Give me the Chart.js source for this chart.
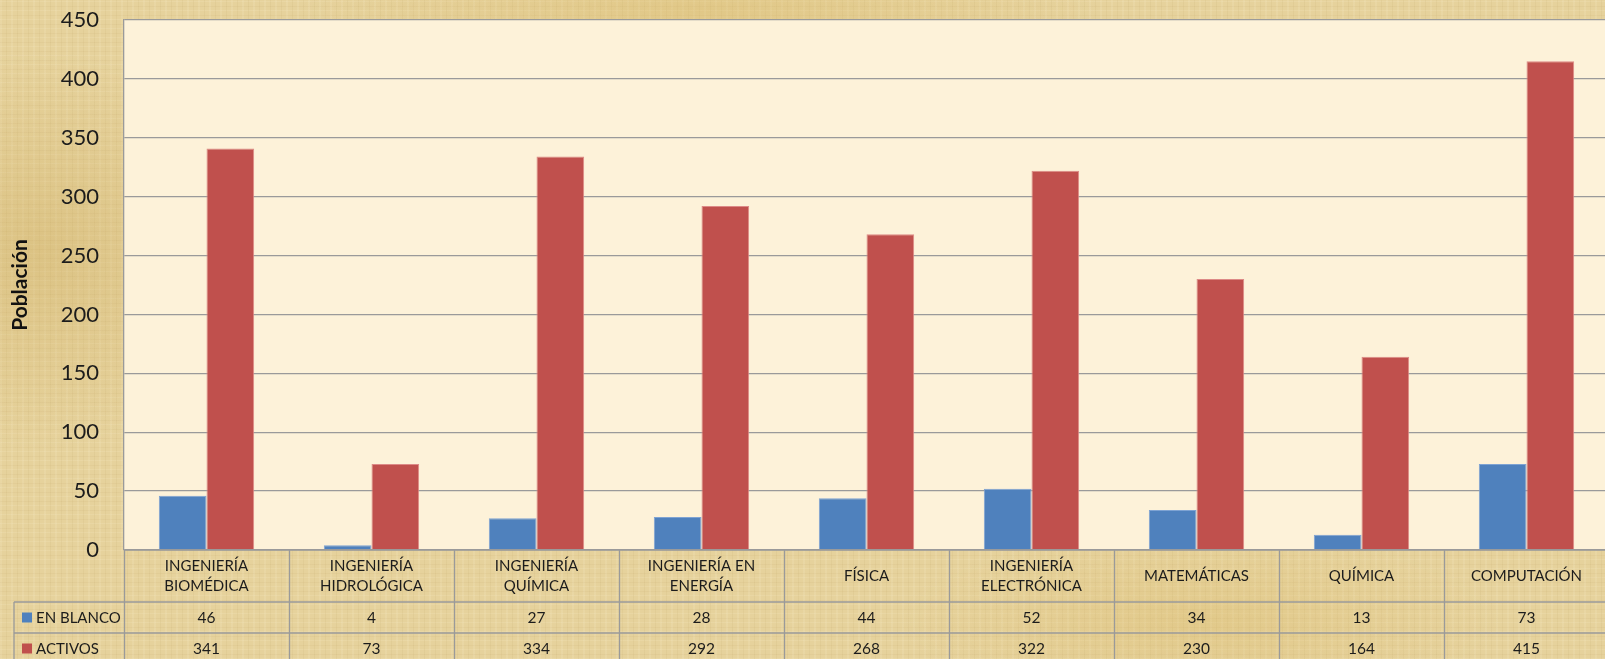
<!DOCTYPE html>
<html>
<head>
<meta charset="utf-8">
<script src="https://cdn.jsdelivr.net/npm/chart.js@4"></script>
<style>
  html, body { margin: 0; padding: 0; overflow: hidden; width: 1605px; height: 659px; }
  body {
    background-color: #e6d29c;
    background-image:
      radial-gradient(ellipse 220px 200px at 40px 250px, rgba(200,165,85,0.35), transparent),
      radial-gradient(ellipse 400px 60px at 700px 10px, rgba(215,180,95,0.35), transparent),
      radial-gradient(ellipse 300px 90px at 1200px 620px, rgba(215,180,95,0.3), transparent),
      repeating-linear-gradient(90deg, rgba(255,250,230,0.10) 0 2px, transparent 2px 6px, rgba(150,110,40,0.06) 6px 7px, transparent 7px 11px),
      repeating-linear-gradient(0deg, rgba(255,250,230,0.10) 0 1px, transparent 1px 4px, rgba(150,110,40,0.05) 4px 5px, transparent 5px 9px);
  }
  #wrap { position: absolute; left: 0; top: 0; width: 1612px; height: 659px; }
</style>
</head>
<body>
<div id="wrap"><canvas id="c" width="1612" height="659"></canvas></div>
<script>
const categories = [
  ["INGENIERÍA", "BIOMÉDICA"],
  ["INGENIERÍA", "HIDROLÓGICA"],
  ["INGENIERÍA", "QUÍMICA"],
  ["INGENIERÍA EN", "ENERGÍA"],
  ["FÍSICA"],
  ["INGENIERÍA", "ELECTRÓNICA"],
  ["MATEMÁTICAS"],
  ["QUÍMICA"],
  ["COMPUTACIÓN"]
];
const seriesNames = ["EN BLANCO", "ACTIVOS"];
const enBlanco = [46, 4, 27, 28, 44, 52, 34, 13, 73];
const activos = [341, 73, 334, 292, 268, 322, 230, 164, 415];
const yTicks = [0, 50, 100, 150, 200, 250, 300, 350, 400, 450];
const axisTitle = "Población";
const colors = ["#4f81bd", "#c0504d"];
const edgeColors = ["#7ea3d3", "#dd8a87"];

const FONT = "Lato, 'Open Sans', sans-serif";
const TEXT = "#1c1c1c";
const LINE = "#9a9a9a";

const plotBg = {
  id: 'plotBg',
  beforeDraw(chart) {
    const a = chart.chartArea, ctx = chart.ctx;
    ctx.save();
    ctx.fillStyle = "#fdf2d9";
    ctx.fillRect(a.left, a.top, a.right - a.left, a.bottom - a.top);
    ctx.restore();
  }
};

const dataTable = {
  id: 'dataTable',
  afterDraw(chart) {
    const ctx = chart.ctx;
    const xs = chart.scales.x;
    const a = chart.chartArea;
    const n = categories.length;
    const cw = (xs.right - xs.left) / n;
    const top = a.bottom;
    const r1 = top + 52, r2 = r1 + 31, r3 = r2 + 31;
    const leftCol = 14;
    ctx.save();
    ctx.strokeStyle = LINE;
    ctx.lineWidth = 1.3;
    ctx.beginPath();
    ctx.moveTo(xs.left, top); ctx.lineTo(chart.width, top);
    ctx.moveTo(leftCol, r1); ctx.lineTo(chart.width, r1);
    ctx.moveTo(leftCol, r2); ctx.lineTo(chart.width, r2);
    ctx.moveTo(leftCol, r1); ctx.lineTo(leftCol, chart.height);
    for (let i = 0; i <= n; i++) {
      const x = Math.round(xs.left + i * cw) + 0.5;
      ctx.moveTo(x, top); ctx.lineTo(x, chart.height);
    }
    ctx.stroke();

    ctx.fillStyle = TEXT;
    ctx.font = "15px " + FONT;
    ctx.textAlign = "center";
    ctx.textBaseline = "middle";
    const hc = (top + r1) / 2;
    categories.forEach((lines, i) => {
      const cx = xs.getPixelForValue(i);
      const lh = 20;
      const y0 = hc - (lines.length - 1) * lh / 2;
      lines.forEach((t, k) => ctx.fillText(t, cx, y0 + k * lh));
    });
    const rows = [enBlanco, activos];
    const rowC = [(r1 + r2) / 2, (r2 + r3) / 2];
    ctx.font = "15.5px " + FONT;
    rows.forEach((vals, r) => {
      vals.forEach((v, i) => ctx.fillText(String(v), xs.getPixelForValue(i), rowC[r]));
    });
    ctx.textAlign = "left";
    seriesNames.forEach((s, r) => {
      ctx.fillStyle = colors[r];
      ctx.fillRect(22, rowC[r] - 5, 10, 10);
      ctx.fillStyle = TEXT;
      ctx.font = "15px " + FONT;
      ctx.fillText(s, 36, rowC[r] + 0.5);
    });
    ctx.restore();
  }
};

new Chart(document.getElementById('c'), {
  type: 'bar',
  data: {
    labels: categories.map(c => c.join(' ')),
    datasets: [
      { label: seriesNames[0], data: enBlanco, backgroundColor: colors[0], borderColor: edgeColors[0], borderWidth: 1 },
      { label: seriesNames[1], data: activos, backgroundColor: colors[1], borderColor: edgeColors[1], borderWidth: 1 }
    ]
  },
  options: {
    responsive: false,
    animation: false,
    devicePixelRatio: 1,
    layout: { padding: { top: 20, bottom: 109, left: 0, right: 3 } },
    plugins: { legend: { display: false }, tooltip: { enabled: false } },
    datasets: { bar: { categoryPercentage: 0.578, barPercentage: 1 } },
    scales: {
      x: { display: false },
      y: {
        min: 0, max: 450,
        afterFit(scale) { scale.width = 124; scale.paddingTop = 0; scale.paddingBottom = 0; },
        afterBuildTicks(scale) { scale.ticks = yTicks.map(v => ({ value: v })); },
        border: { display: true, color: LINE, width: 1.3 },
        grid: { color: LINE, lineWidth: 1.3, drawTicks: false },
        ticks: { padding: 25, color: TEXT, font: { family: FONT, size: 22 } },
        title: { display: true, text: axisTitle, color: "#111", padding: { top: 8, bottom: 0 }, font: { family: FONT, size: 21, weight: 'bold' } }
      }
    }
  },
  plugins: [plotBg, dataTable]
});
</script>
</body>
</html>
